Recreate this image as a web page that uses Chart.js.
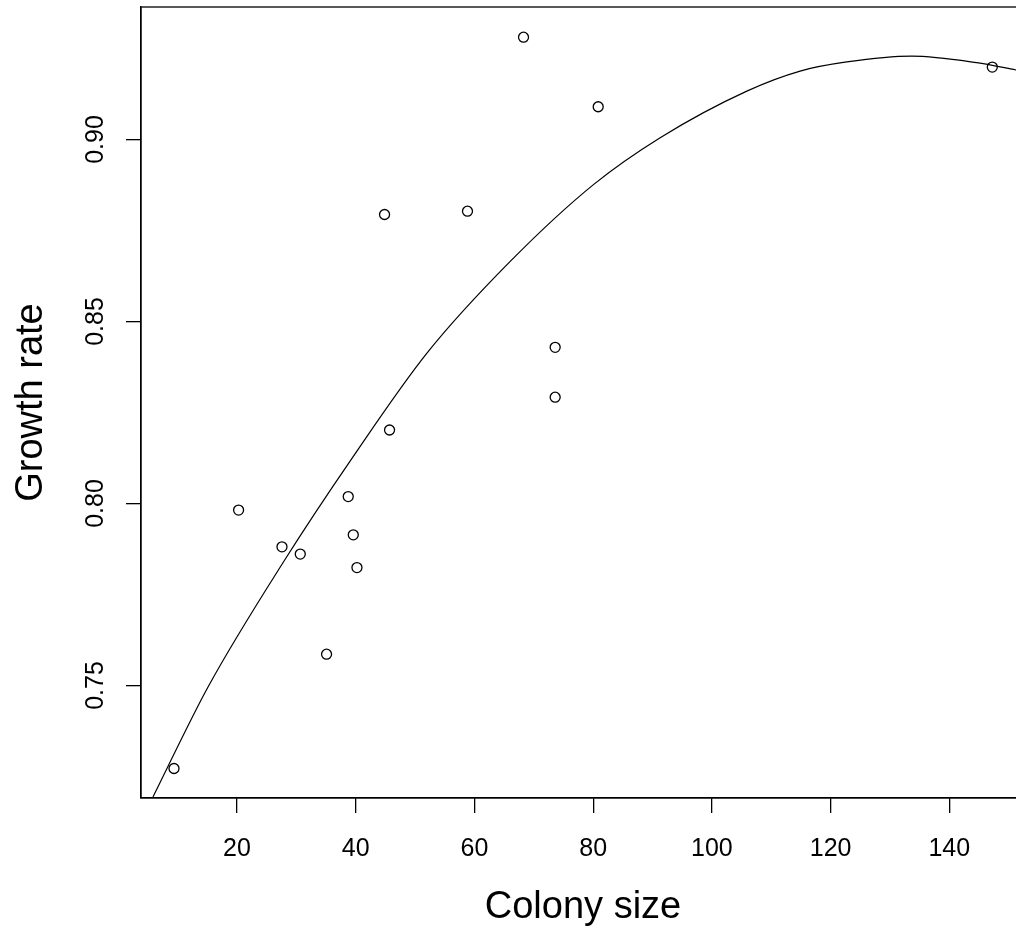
<!DOCTYPE html>
<html>
<head>
<meta charset="utf-8">
<script src="https://cdn.jsdelivr.net/npm/chart.js@4"></script>
<style>
  html, body { margin: 0; padding: 0; background: #fff; overflow: hidden; }
  #wrap { width: 1016px; height: 931px; overflow: hidden; }
</style>
</head>
<body>
<div id="wrap"><canvas id="myChart" width="1040" height="931"></canvas></div>
<script>
// observed points
const colonySize = [9.39, 20.27, 27.58, 30.66, 35.09, 38.74, 39.59, 40.21, 45.70, 44.86, 58.83, 68.27, 73.60, 73.60, 80.85, 147.24];
const growthRate = [0.7272, 0.7982, 0.7881, 0.7861, 0.7586, 0.8019, 0.7914, 0.7824, 0.8202, 0.8794, 0.8803, 0.9281, 0.8429, 0.8292, 0.9090, 0.9199];

// fitted curve
const fitSize = [5.85, 15.12, 27.85, 39.37, 52.00, 66.03, 80.05, 91.29, 105.89, 114.87, 122.73, 133.66, 144.62, 151.24];
const fitRate = [0.7194, 0.7496, 0.7840, 0.8124, 0.8413, 0.8665, 0.8876, 0.9005, 0.9133, 0.9188, 0.9213, 0.9229, 0.9211, 0.9191];

const xTicks = [20, 40, 60, 80, 100, 120, 140];
const yTicks = [0.75, 0.80, 0.85, 0.90];
const xTitle = 'Colony size';
const yTitle = 'Growth rate';

const FONT = '"Liberation Sans", Arial, sans-serif';

// R-style box, tick labels and axis titles
const rStyle = {
    id: 'rStyle',
    afterDraw(chart) {
        const ctx = chart.ctx;
        const a = chart.chartArea;
        const xs = chart.scales.x, ys = chart.scales.y;
        ctx.save();
        ctx.strokeStyle = '#000';
        ctx.lineWidth = 1.3;
        ctx.strokeRect(a.left, a.top, a.right - a.left, a.bottom - a.top);

        ctx.fillStyle = '#000';
        ctx.font = '25px ' + FONT;
        ctx.textAlign = 'center';
        ctx.textBaseline = 'alphabetic';
        xTicks.forEach(v => {
            ctx.fillText(String(v), xs.getPixelForValue(v), 856);
        });
        yTicks.forEach(v => {
            ctx.save();
            ctx.translate(103, ys.getPixelForValue(v));
            ctx.rotate(-Math.PI / 2);
            ctx.fillText(v.toFixed(2), 0, 0);
            ctx.restore();
        });

        ctx.font = '38px ' + FONT;
        ctx.fillText(xTitle, (a.left + a.right) / 2, 918);
        ctx.save();
        ctx.translate(42, (a.top + a.bottom) / 2);
        ctx.rotate(-Math.PI / 2);
        ctx.fillText(yTitle, 0, 0);
        ctx.restore();
        ctx.restore();
    }
};

const axisStyle = {
    grid: { drawOnChartArea: false, drawTicks: true, tickLength: 15, color: '#000', lineWidth: 1.3 },
    border: { display: true, color: '#000', width: 1.3 },
    ticks: { display: false },
    title: { display: false }
};

const ctx = document.getElementById('myChart').getContext('2d');
const myChart = new Chart(ctx, {
    type: 'scatter',
    data: {
        datasets: [
            {
                label: 'fit',
                data: fitSize.map((x, i) => ({ x: x, y: fitRate[i] })),
                showLine: true,
                borderColor: '#000',
                borderWidth: 1.2,
                pointRadius: 0,
                cubicInterpolationMode: 'monotone',
                fill: false
            },
            {
                label: 'data',
                data: colonySize.map((x, i) => ({ x: x, y: growthRate[i] })),
                pointRadius: 5,
                pointBorderWidth: 1.3,
                borderColor: '#000',
                backgroundColor: 'rgba(0,0,0,0)'
            }
        ]
    },
    options: {
        responsive: false,
        animation: false,
        layout: { padding: { left: 126, top: 7, right: 15, bottom: 118 } },
        plugins: { legend: { display: false }, tooltip: { enabled: false } },
        scales: {
            x: Object.assign({
                type: 'linear', position: 'bottom', min: 3.83, max: 152.75,
                afterBuildTicks: axis => { axis.ticks = xTicks.map(v => ({ value: v })); }
            }, axisStyle),
            y: Object.assign({
                type: 'linear', position: 'left', min: 0.7191, max: 0.9364,
                afterBuildTicks: axis => { axis.ticks = yTicks.map(v => ({ value: v })); }
            }, axisStyle)
        }
    },
    plugins: [rStyle]
});
</script>
</body>
</html>
